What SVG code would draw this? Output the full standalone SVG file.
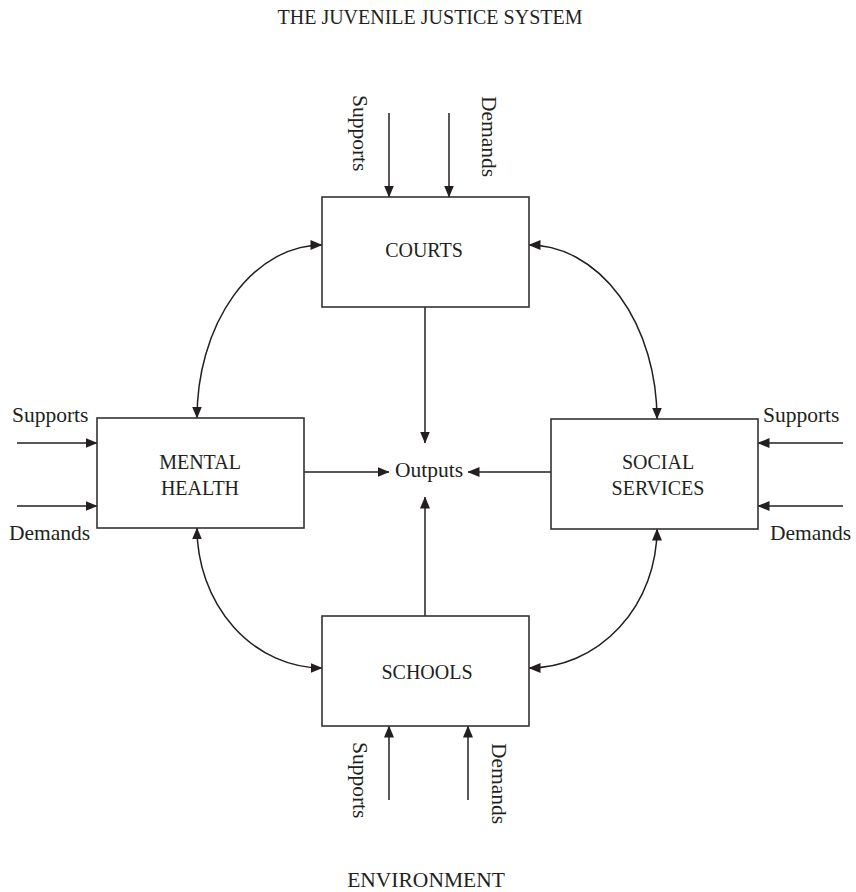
<svg xmlns="http://www.w3.org/2000/svg" width="856" height="892" viewBox="0 0 856 892">
<defs>
<marker id="ah" viewBox="0 0 12 10" refX="11.5" refY="5" markerWidth="12" markerHeight="10" markerUnits="userSpaceOnUse" orient="auto-start-reverse">
<path d="M0,0 L12,5 L0,10 z" fill="#231f20"/>
</marker>
<style>
text{font-family:"Liberation Serif","Times New Roman",serif;fill:#231f20}
.t{font-size:20px}
.l{font-size:21.5px}
.box{fill:#fff;stroke:#333;stroke-width:1.6}
.c{fill:none;stroke:#231f20;stroke-width:1.5}
.a{marker-end:url(#ah)}
.aa{marker-start:url(#ah);marker-end:url(#ah)}
</style>
</defs>
<rect width="856" height="892" fill="#fff"/>
<text class="t" x="430" y="24" text-anchor="middle">THE JUVENILE JUSTICE SYSTEM</text>
<text class="l" x="426" y="887" text-anchor="middle">ENVIRONMENT</text>

<g id="connectors">
<line class="c a" x1="389" y1="113" x2="389" y2="197"/>
<line class="c a" x1="449" y1="113" x2="449" y2="197"/>
<line class="c a" x1="389" y1="800" x2="389" y2="726"/>
<line class="c a" x1="468" y1="800" x2="468" y2="726"/>
<line class="c a" x1="17" y1="443" x2="97" y2="443"/>
<line class="c a" x1="17" y1="506" x2="97" y2="506"/>
<line class="c a" x1="843" y1="443" x2="758" y2="443"/>
<line class="c a" x1="843" y1="506" x2="758" y2="506"/>
<line class="c a" x1="425" y1="307" x2="425" y2="443"/>
<line class="c a" x1="425" y1="616" x2="425" y2="497"/>
<line class="c a" x1="304" y1="472" x2="389" y2="472"/>
<line class="c a" x1="551" y1="472" x2="468" y2="472"/>
<path class="c aa" d="M322,245 A125,173 0 0 0 197,418"/>
<path class="c aa" d="M529,245 A128,174 0 0 1 657,419"/>
<path class="c aa" d="M197,528 A125,140 0 0 0 322,668"/>
<path class="c aa" d="M657,529 A128,139 0 0 1 529,668"/>
</g>

<g id="courts">
<rect class="box" x="322" y="197" width="207" height="110"/>
<text class="t" x="424" y="257" text-anchor="middle">COURTS</text>
</g>
<g id="mental-health">
<rect class="box" x="97" y="418" width="207" height="110"/>
<text class="t" x="200" y="469" text-anchor="middle">MENTAL</text>
<text class="t" x="200" y="495" text-anchor="middle">HEALTH</text>
</g>
<g id="social-services">
<rect class="box" x="551" y="419" width="207" height="110"/>
<text class="t" x="658" y="469" text-anchor="middle">SOCIAL</text>
<text class="t" x="658" y="495" text-anchor="middle">SERVICES</text>
</g>
<g id="schools">
<rect class="box" x="322" y="616" width="207" height="110"/>
<text class="t" x="427" y="679" text-anchor="middle">SCHOOLS</text>
</g>
<g id="outputs">
<text class="l" x="429" y="477" text-anchor="middle">Outputs</text>
</g>

<g id="labels">
<text class="l" transform="translate(353,95) rotate(90)">Supports</text>
<text class="l" transform="translate(482,96) rotate(90)">Demands</text>
<text class="l" transform="translate(353,742) rotate(90)">Supports</text>
<text class="l" transform="translate(492,743) rotate(90)">Demands</text>
<text class="l" x="12" y="422">Supports</text>
<text class="l" x="9" y="540">Demands</text>
<text class="l" x="763" y="422">Supports</text>
<text class="l" x="770" y="540">Demands</text>
</g>
</svg>
